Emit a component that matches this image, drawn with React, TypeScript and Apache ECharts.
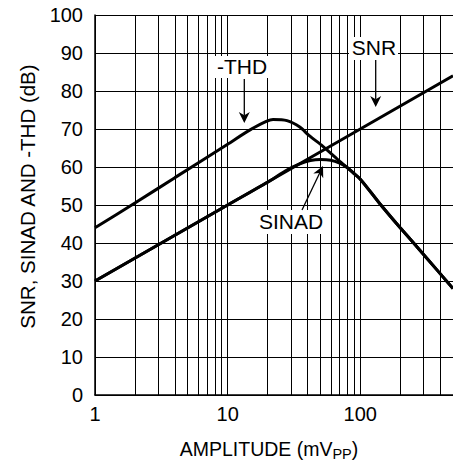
import React, { useEffect, useRef } from 'react';
import * as echarts from 'echarts';

// Amplitude (mVpp) vs dB values
const snrData: [number, number][] = [[1, 30], [10, 50], [100, 70], [500, 84]];
const thdData: [number, number][] = [
  [1, 44], [2, 50.5], [4, 57.2], [10, 66], [15, 69.9], [22, 72.5], [28, 72.2],
  [35, 70.5], [41, 68.3], [52, 65.5], [70, 61.5], [100, 56.8], [140, 50.4],
  [200, 44], [300, 37], [500, 28],
];
const sinadData: [number, number][] = [
  [1, 30], [10, 50], [20, 56], [28, 59.2], [35, 60.8], [42, 61.7], [50, 62],
  [60, 61.8], [70, 61], [80, 59.8], [90, 58.2], [100, 56.8], [140, 50.4],
  [200, 44], [300, 37], [500, 28],
];
const minorGridX: number[] = [2, 3, 4, 5, 6, 7, 8, 9, 20, 30, 40, 50, 60, 70, 80, 90, 200, 300, 400];
const xMin = 1;
const xMax = 500;
const yMin = 0;
const yMax = 100;
const yStep = 10;

const FONT = 'Liberation Sans, Arial, Helvetica, sans-serif';

function arrowHead(tip: [number, number], from: [number, number], len: number, hw: number) {
  const dx = tip[0] - from[0];
  const dy = tip[1] - from[1];
  const L = Math.hypot(dx, dy);
  const ux = dx / L, uy = dy / L;
  const nx = -uy, ny = ux;
  const bx = tip[0] - ux * len, by = tip[1] - uy * len;
  const notchX = tip[0] - ux * len * 0.7, notchY = tip[1] - uy * len * 0.7;
  return {
    points: [
      tip,
      [bx + nx * hw, by + ny * hw],
      [notchX, notchY],
      [bx - nx * hw, by - ny * hw],
    ],
    base: [notchX, notchY] as [number, number],
  };
}

function arrow(from: [number, number], tip: [number, number]) {
  const h = arrowHead(tip, from, 11, 5.5);
  return [
    {
      type: 'line',
      z: 101,
      shape: { x1: from[0], y1: from[1], x2: h.base[0], y2: h.base[1] },
      style: { stroke: '#000', lineWidth: 1.3 },
    },
    {
      type: 'polygon',
      z: 101,
      shape: { points: h.points },
      style: { fill: '#000' },
    },
  ];
}

function label(text: string, cx: number, cy: number, box: [number, number, number, number]) {
  return [
    {
      type: 'rect',
      z: 100,
      shape: { x: box[0], y: box[1], width: box[2], height: box[3] },
      style: { fill: '#fff' },
    },
    {
      type: 'text',
      z: 101,
      x: cx,
      y: cy,
      style: {
        text,
        fill: '#000',
        font: `21px ${FONT}`,
        align: 'center',
        verticalAlign: 'middle',
      },
    },
  ];
}

export default function App() {
  const ref = useRef<HTMLDivElement>(null);
  useEffect(() => {
    if (!ref.current) return;
    const chart = echarts.init(ref.current, null, { renderer: 'svg' });
    const curve = (name: string, data: [number, number][], smooth: number) => ({
      name,
      type: 'line',
      data,
      showSymbol: false,
      symbol: 'none',
      smooth,
      z: 5,
      lineStyle: { color: '#000', width: 3 },
      emphasis: { disabled: true },
    });
    chart.setOption({
      animation: false,
      backgroundColor: '#fff',
      grid: { left: 95, top: 15, width: 359, height: 380, containLabel: false },
      xAxis: {
        type: 'log',
        logBase: 10,
        min: xMin,
        max: xMax,
        axisLine: { show: true, lineStyle: { color: '#000', width: 1.5 } },
        axisTick: { show: false },
        splitLine: { show: true, lineStyle: { color: '#000', width: 1 } },
        axisLabel: {
          color: '#000',
          fontSize: 20,
          fontFamily: FONT,
          margin: 9,
          showMaxLabel: false,
        },
        name: 'AMPLITUDE (mV{sub|PP})',
        nameLocation: 'middle',
        nameGap: 42,
        nameTextStyle: {
          color: '#000',
          fontSize: 19.5,
          fontFamily: FONT,
          padding: [0, 10, 0, 0],
          rich: {
            sub: { fontSize: 14.5, fontFamily: FONT, color: '#000', padding: [9, 0, 0, 0] },
          },
        },
      },
      yAxis: {
        type: 'value',
        min: yMin,
        max: yMax,
        interval: yStep,
        axisLine: { show: true, lineStyle: { color: '#000', width: 1.5 } },
        axisTick: { show: false },
        splitLine: { show: true, lineStyle: { color: '#000', width: 1 } },
        axisLabel: { color: '#000', fontSize: 20, fontFamily: FONT, margin: 12 },
        name: 'SNR, SINAD AND -THD (dB)',
        nameLocation: 'middle',
        nameRotate: 90,
        nameGap: 57,
        nameTextStyle: {
          color: '#000',
          fontSize: 20.5,
          fontFamily: FONT,
          padding: [0, 0, 0, 17],
        },
      },
      series: [
        {
          ...curve('SNR', snrData, 0),
          markLine: {
            silent: true,
            symbol: ['none', 'none'],
            label: { show: false },
            emphasis: { disabled: true },
            lineStyle: { color: '#000', width: 1, type: 'solid' },
            data: minorGridX.map((v) => ({ xAxis: v })),
          },
        },
        curve('-THD', thdData, 0.25),
        curve('SINAD', sinadData, 0.25),
      ],
      graphic: {
        elements: [
          ...label('-THD', 242, 66, [214, 56, 56, 22]),
          ...arrow([244.3, 79], [244.3, 123]),
          ...label('SNR', 374, 47.5, [349, 37, 49, 23]),
          ...arrow([375.7, 60], [375.7, 107]),
          ...label('SINAD', 291, 221.5, [257, 210, 68, 24]),
          ...arrow([302, 210], [323, 166]),
        ],
      },
    });
    return () => chart.dispose();
  }, []);
  return (
    <div
      ref={ref}
      style={{ position: 'fixed', left: 0, top: 0, width: 453, height: 466, background: '#fff' }}
    />
  );
}
